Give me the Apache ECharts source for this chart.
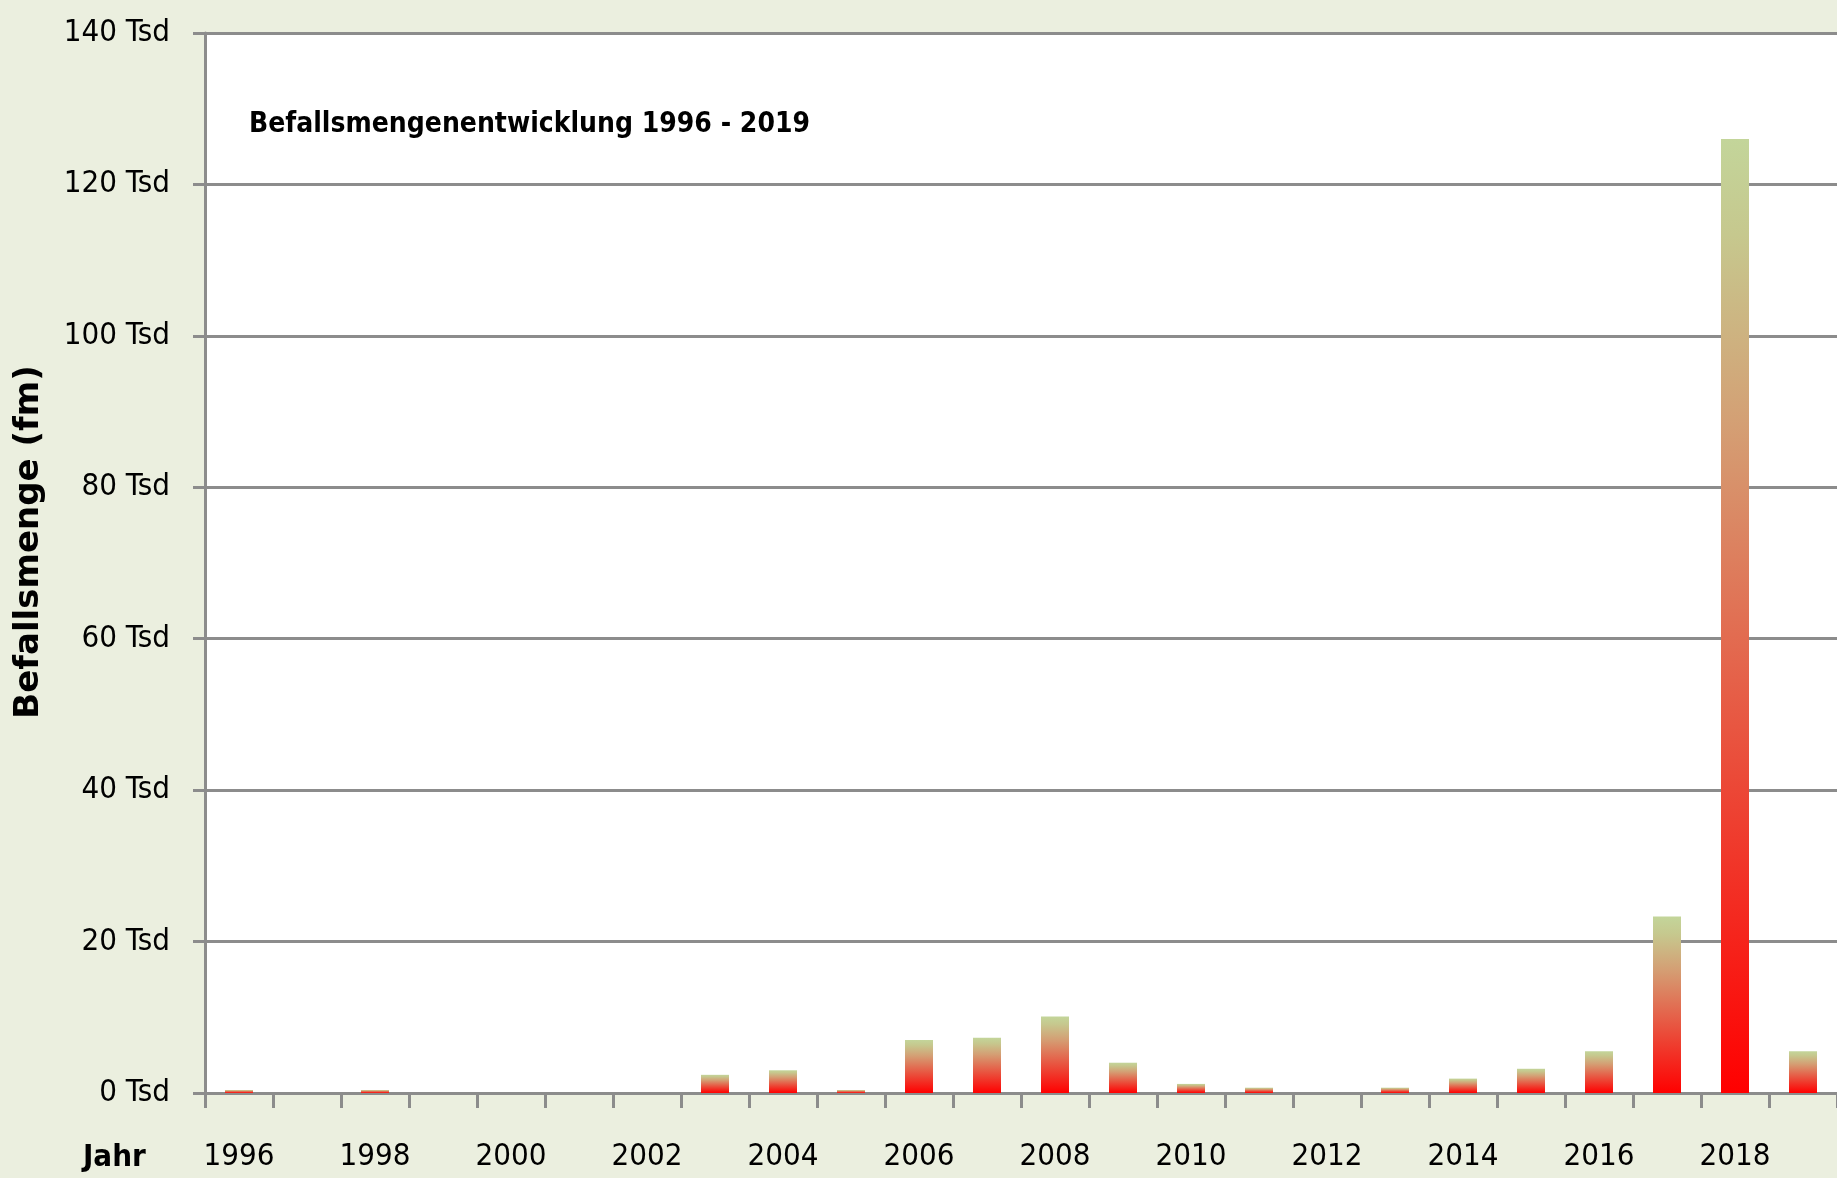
<!DOCTYPE html>
<html>
<head>
<meta charset="utf-8">
<title>Befallsmengenentwicklung 1996 - 2019</title>
<script src="https://cdn.jsdelivr.net/npm/echarts@6/dist/echarts.min.js"></script>
<style>
  html, body { margin: 0; padding: 0; background: #ebefdf; }
  #chart { width: 1837px; height: 1178px; }
</style>
</head>
<body>
<div id="chart"></div>
<script>
  // Jahre und Befallsmenge in Tsd fm
  var years = ['1996', '1997', '1998', '1999', '2000', '2001', '2002', '2003',
    '2004', '2005', '2006', '2007', '2008', '2009', '2010', '2011', '2012',
    '2013', '2014', '2015', '2016', '2017', '2018', '2019'];
  var befall = [0.4, 0, 0.4, 0, 0, 0, 0, 2.4, 3.0, 0.4, 7.0, 7.3, 10.1, 4.0,
    1.2, 0.7, 0, 0.7, 1.9, 3.2, 5.5, 23.3, 126, 5.5];
  var yTicks = [0, 20, 40, 60, 80, 100, 120, 140];

  var narrow = "'Liberation Sans Narrow', 'DejaVu Sans Condensed', sans-serif";

  var chart = echarts.init(document.getElementById('chart'));

  // Verlauf gruen oben -> rot unten, je Balken
  var barColor = new echarts.graphic.LinearGradient(0, 0, 0, 1, [
    { offset: 0, color: '#c3d59a' },
    { offset: 0.1, color: '#c6c88e' },
    { offset: 0.3, color: '#d49f74' },
    { offset: 0.55, color: '#e4654c' },
    { offset: 0.8, color: '#f32c22' },
    { offset: 1, color: '#ff0000' }
  ]);

  chart.setOption({
    backgroundColor: '#ebefdf',
    animation: false,
    title: {
      text: 'Befallsmengenentwicklung 1996 - 2019',
      left: 244,
      top: 106,
      textStyle: { fontFamily: narrow, fontWeight: 'bold', fontSize: 28, color: '#000' }
    },
    grid: {
      left: 205,
      top: 33,
      width: 1636,
      height: 1060,
      show: true,
      backgroundColor: '#ffffff',
      borderWidth: 0
    },
    xAxis: {
      type: 'category',
      data: years,
      axisLine: { lineStyle: { color: '#8c8c8c', width: 3 } },
      axisTick: { show: true, interval: 0, length: 15, lineStyle: { color: '#8c8c8c', width: 3 } },
      axisLabel: {
        interval: 1,
        margin: 48,
        fontFamily: narrow,
        fontSize: 31,
        lineHeight: 31,
        color: '#000'
      }
    },
    yAxis: {
      type: 'value',
      min: yTicks[0],
      max: yTicks[yTicks.length - 1],
      interval: yTicks[1] - yTicks[0],
      axisLine: { show: true, lineStyle: { color: '#8c8c8c', width: 3 } },
      axisTick: { show: true, length: 12, lineStyle: { color: '#8c8c8c', width: 3 } },
      splitLine: { lineStyle: { color: '#8c8c8c', width: 3 } },
      axisLabel: {
        margin: 35,
        fontFamily: narrow,
        fontSize: 31,
        color: '#000',
        formatter: '{value} Tsd'
      }
    },
    graphic: [
      {
        type: 'text',
        x: 29,
        y: 542,
        rotation: Math.PI / 2,
        style: {
          text: 'Befallsmenge (fm)',
          font: "bold 34px 'DejaVu Sans', sans-serif",
          fill: '#000',
          textAlign: 'center',
          textVerticalAlign: 'middle'
        }
      },
      {
        type: 'text',
        x: 83,
        y: 1158,
        style: {
          text: 'Jahr',
          font: "bold 31px " + narrow,
          fill: '#000',
          textAlign: 'left',
          textVerticalAlign: 'middle'
        }
      }
    ],
    series: [
      {
        name: 'Befallsmenge',
        type: 'bar',
        data: befall,
        barWidth: 28,
        itemStyle: { color: barColor }
      }
    ]
  });
</script>
</body>
</html>
